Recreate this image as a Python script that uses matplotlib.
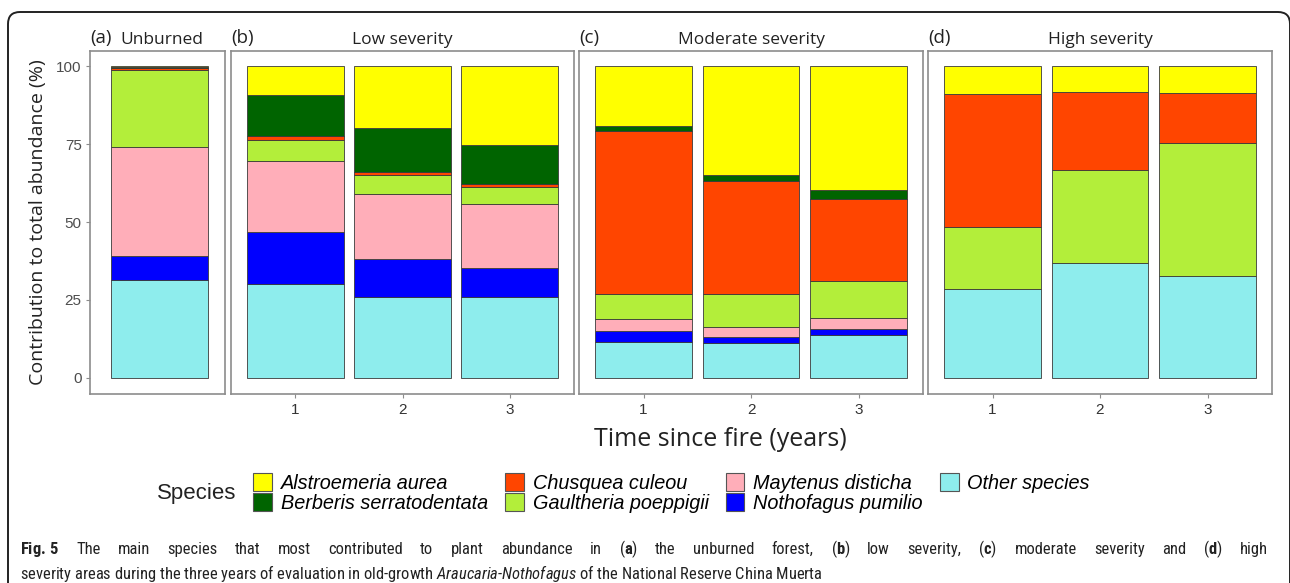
import matplotlib
matplotlib.use("Agg")
import matplotlib.pyplot as plt
from matplotlib import font_manager as fm
from matplotlib.patches import Patch, FancyBboxPatch

# datos (% de abundancia)
species = ["Alstroemeria aurea", "Berberis serratodentata", "Chusquea culeou",
           "Gaultheria poeppigii", "Maytenus disticha", "Nothofagus pumilio",
           "Other species"]
colors = ["#FFFF00", "#006400", "#FF4500", "#B3EE3A", "#FFAEB9", "#0000FF", "#8EEDED"]

# barras: Unburned, Low 1-3, Moderate 1-3, High 1-3
alstroemeria = [0.3, 9.4, 20.0, 25.4, 19.2, 34.8, 39.6, 9.1, 8.3, 8.5]
berberis = [0.3, 13.1, 14.0, 12.5, 1.6, 1.9, 2.9, 0, 0, 0]
chusquea = [0.5, 1.1, 1.0, 0.8, 52.4, 36.5, 26.4, 42.4, 24.9, 16.2]
gaultheria = [25.0, 6.8, 6.0, 5.5, 7.8, 10.4, 11.8, 19.9, 30.0, 42.7]
maytenus = [34.8, 22.7, 21.0, 20.6, 4.0, 3.2, 3.7, 0, 0, 0]
nothofagus = [7.7, 16.9, 11.9, 9.2, 3.5, 2.1, 1.8, 0, 0, 0]
other = [31.4, 30.0, 26.1, 26.0, 11.5, 11.1, 13.8, 28.6, 36.8, 32.6]

bar_panel = [0, 1, 1, 1, 2, 2, 2, 3, 3, 3]
bar_year = [1, 1, 2, 3, 1, 2, 3, 1, 2, 3]

panel_titles = ["Unburned", "Low severity", "Moderate severity", "High severity"]
panel_tags = ["(a)", "(b)", "(c)", "(d)"]
year_labels = ["1", "2", "3"]
y_ticks = [0, 25, 50, 75, 100]

series = [alstroemeria, berberis, chusquea, gaultheria, maytenus, nothofagus, other]

# fuente angosta para el pie: la mas angosta que este instalada
nombres = {f.name for f in fm.fontManager.ttflist}
cap_font = "Roboto"
for cand in ["Noto Sans ExtraCondensed", "Noto Sans Condensed", "Roboto Condensed"]:
    if cand in nombres:
        cap_font = cand
        break
plt.rcParams["mathtext.fontset"] = "custom"
plt.rcParams["mathtext.rm"] = cap_font
plt.rcParams["mathtext.bf"] = cap_font + ":bold"
plt.rcParams["mathtext.it"] = cap_font + ":italic"

W, H = 1290, 583
fig = plt.figure(figsize=(W / 100, H / 100), dpi=100)


def px_axes(x0, x1, y0, y1):
    return fig.add_axes([x0 / W, 1 - y1 / H, (x1 - x0) / W, (y1 - y0) / H])


# marco exterior del recuadro de la figura
marco = FancyBboxPatch((0.08, -1.0), 12.82, 5.83 - 0.12 + 1.0,
                       boxstyle="round,pad=0,rounding_size=0.12",
                       transform=fig.dpi_scale_trans, fill=False,
                       edgecolor="#222222", linewidth=1.4)
fig.patches.append(marco)

paneles_px = [(90, 225), (231, 574), (579, 923), (928, 1272)]
y_top, y_bot = 50.5, 393.5
box_color = "#8c8c8c"

axes = []
for p, (x0, x1) in enumerate(paneles_px):
    ax = px_axes(x0, x1, y_top, y_bot)
    axes.append(ax)
    idx = [i for i, bp in enumerate(bar_panel) if bp == p]
    xs = [bar_year[i] for i in idx]
    bottom = [0.0] * len(idx)
    # apilar desde abajo: Other ... Alstroemeria
    for k in range(len(series) - 1, -1, -1):
        vals = [series[k][i] for i in idx]
        for j, v in enumerate(vals):
            if v > 0:
                ax.bar(xs[j], v, bottom=bottom[j], width=0.9, color=colors[k],
                       edgecolor="#3a3a3a", linewidth=0.6)
            bottom[j] += v
    ax.set_ylim(-5, 105)
    if p == 0:
        ax.set_xlim(0.35, 1.61)
        ax.set_xticks([])
        ax.set_yticks(y_ticks)
        ax.set_yticklabels([str(t) for t in y_ticks], fontsize=11,
                           family="Liberation Sans", color="#4d4d4d")
        ax.tick_params(axis="y", length=3, color="#8c8c8c", pad=3)
    else:
        ax.set_xlim(0.4, 3.6)
        ax.set_yticks([])
        ax.set_xticks([1, 2, 3])
        ax.set_xticklabels(year_labels, fontsize=11, family="Liberation Sans",
                           color="#333333")
        ax.tick_params(axis="x", length=3, color="#8c8c8c", pad=4)
    for s in ax.spines.values():
        s.set_color(box_color)
        s.set_linewidth(1.2)
    cx = (x0 + x1) / 2
    fig.text(x0 / W, 1 - 38 / H, panel_tags[p], fontsize=13.5, family="Open Sans",
             ha="left", va="center", color="#222222")
    tx = cx + 4 if p == 0 else cx
    fig.text(tx / W, 1 - 40 / H, panel_titles[p], fontsize=12.5, family="Open Sans",
             ha="center", va="center", color="#222222")

fig.text(38 / W, 1 - 222 / H, "Contribution to total abundance (%)", rotation=90,
         fontsize=14, family="Open Sans", ha="center", va="center", color="#222222")
fig.text(720 / W, 1 - 440 / H, "Time since fire (years)", fontsize=18,
         family="Open Sans", ha="center", va="center", color="#222222")

# leyenda
handles = [Patch(facecolor=c, edgecolor="#555555", linewidth=0.8) for c in colors]
fig.text(197 / W, 1 - 493 / H, "Species", fontsize=16, family="Liberation Sans",
         ha="center", va="center", color="#222222")
leg = fig.legend(handles, species, ncol=4, loc="center left",
                 bbox_to_anchor=(253 / W, 1 - 493 / H), frameon=False,
                 prop={"family": "Liberation Sans", "style": "italic", "size": 14.3},
                 handlelength=0.95, handleheight=1.0, handletextpad=0.45,
                 labelspacing=0.0, columnspacing=0.85, borderpad=0, borderaxespad=0)

# pie de figura: linea 1 justificada, linea 2 a ancho natural
linea1 = (r"$\mathbf{Fig.\,5}$ The main species that most contributed to plant abundance in "
          r"($\mathbf{a}$) the unburned forest, ($\mathbf{b}$) low severity, "
          r"($\mathbf{c}$) moderate severity and ($\mathbf{d}$) high")
linea2 = (r"severity areas during the three years of evaluation in old-growth "
          r"$\mathit{Araucaria}$-$\mathit{Nothofagus}$ of the National Reserve China Muerta")
renderer = fig.canvas.get_renderer()
base = 13.0
t2 = fig.text(20 / W, 1 - 579 / H, linea2, fontsize=base, family=cap_font,
              ha="left", va="baseline", color="#222222")
ancho = t2.get_window_extent(renderer).width
size = min(base * 800 / ancho, 13.5)
t2.set_fontsize(size)

palabras = linea1.split(" ")
textos = []
total = 0
for w in palabras:
    t = fig.text(0, 1 - 554 / H, w, fontsize=size, family=cap_font,
                 ha="left", va="baseline", color="#222222")
    total += t.get_window_extent(renderer).width
    textos.append(t)
hueco = (1268 - 20 - total) / (len(textos) - 1)
x = 20
for t in textos:
    t.set_x(x / W)
    x += t.get_window_extent(renderer).width + hueco

fig.savefig("out.png", dpi=100)
